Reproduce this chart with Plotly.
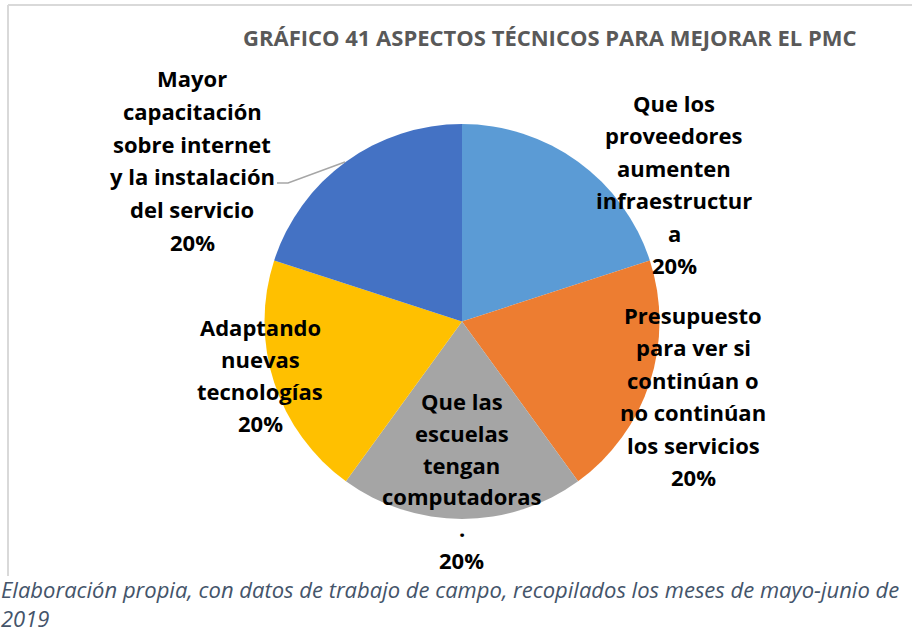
import plotly.graph_objects as go

# --- data -----------------------------------------------------------------
categories = [
    "Que los proveedores aumenten infraestructura",
    "Presupuesto para ver si continúan o no continúan los servicios",
    "Que las escuelas tengan computadoras.",
    "Adaptando nuevas tecnologías",
    "Mayor capacitación sobre internet y la instalación del servicio",
]
values = [20, 20, 20, 20, 20]
colors = ["#5B9BD5", "#ED7D31", "#A5A5A5", "#FFC000", "#4472C4"]

# wrapped label text, one entry per line, as laid out inside the chart area
label_lines = [
    ["Que los", "proveedores", "aumenten", "infraestructur", "a"],
    ["Presupuesto", "para ver si", "continúan o", "no continúan", "los servicios"],
    ["Que las", "escuelas", "tengan", "computadoras", "."],
    ["Adaptando", "nuevas", "tecnologías"],
    ["Mayor", "capacitación", "sobre internet", "y la instalación", "del servicio"],
]

title = "GRÁFICO 41 ASPECTOS TÉCNICOS PARA MEJORAR EL PMC"
caption = ("Elaboración propia, con datos de trabajo de campo, recopilados los meses de mayo-junio de"
           "<br>2019")

# --- layout helpers (pixel -> paper) --------------------------------------
W, H = 912, 634


def px(x):
    return x / W


def py(y):
    return 1 - y / H


# pie centre and radius in pixels
CX, CY, R = 462, 321.5, 197.5

# label anchor: centre x, first-line centre y and line step for each slice
label_pos = [(674, 103, 32.4), (693, 315, 32.4), (462, 401, 31.8), (260, 327, 32.0), (192, 78, 32.8)]
FONT = "'Open Sans', sans-serif"

fig = go.Figure()
fig.add_trace(go.Pie(
    labels=categories,
    values=values,
    sort=False,
    direction="clockwise",
    rotation=0,
    marker=dict(colors=colors, line=dict(width=0)),
    textinfo="none",
    hoverinfo="label+percent",
    showlegend=False,
    domain=dict(x=[px(CX - R), px(CX + R)], y=[py(CY + R), py(CY - R)]),
))

annotations = []
total = sum(values)
for lines, (lx, ly, step), v in zip(label_lines, label_pos, values):
    pct = f"{round(100 * v / total)}%"
    for i, t in enumerate(lines + [pct]):
        annotations.append(dict(
            x=px(lx), y=py(ly + i * step), xref="paper", yref="paper",
            text=f"<b>{t}</b>", showarrow=False, xanchor="center", yanchor="middle",
            borderpad=0, font=dict(family=FONT, size=22, color="#000000"),
        ))

annotations.append(dict(
    x=px(550), y=py(37), xref="paper", yref="paper", text=f"<b>{title}</b>",
    showarrow=False, xanchor="center", yanchor="middle",
    font=dict(family=FONT, size=22, color="#595959"),
))
annotations.append(dict(
    x=0, y=0, xref="paper", yref="paper", text=f"<i>{caption}</i>",
    showarrow=False, xanchor="left", yanchor="bottom", align="left", borderpad=0,
    font=dict(family=FONT, size=22, color="#44546A"),
))

shapes = [
    # chart frame (left and top edges)
    dict(type="line", xref="paper", yref="paper", x0=px(8), y0=py(576), x1=px(8), y1=py(5),
         line=dict(color="#D9D9D9", width=2)),
    dict(type="line", xref="paper", yref="paper", x0=px(8), y0=py(5), x1=px(912), y1=py(5),
         line=dict(color="#D9D9D9", width=2)),
    # leader line for the last slice label
    dict(type="path", xref="paper", yref="paper",
         path=f"M {px(277)},{py(183)} L {px(288)},{py(183)} L {px(345)},{py(162)}",
         line=dict(color="#A6A6A6", width=1.5)),
]

fig.update_layout(
    width=W, height=H,
    margin=dict(l=0, r=0, t=0, b=0),
    paper_bgcolor="white", plot_bgcolor="white",
    annotations=annotations,
    shapes=shapes,
)

fig.write_html("out.html")
